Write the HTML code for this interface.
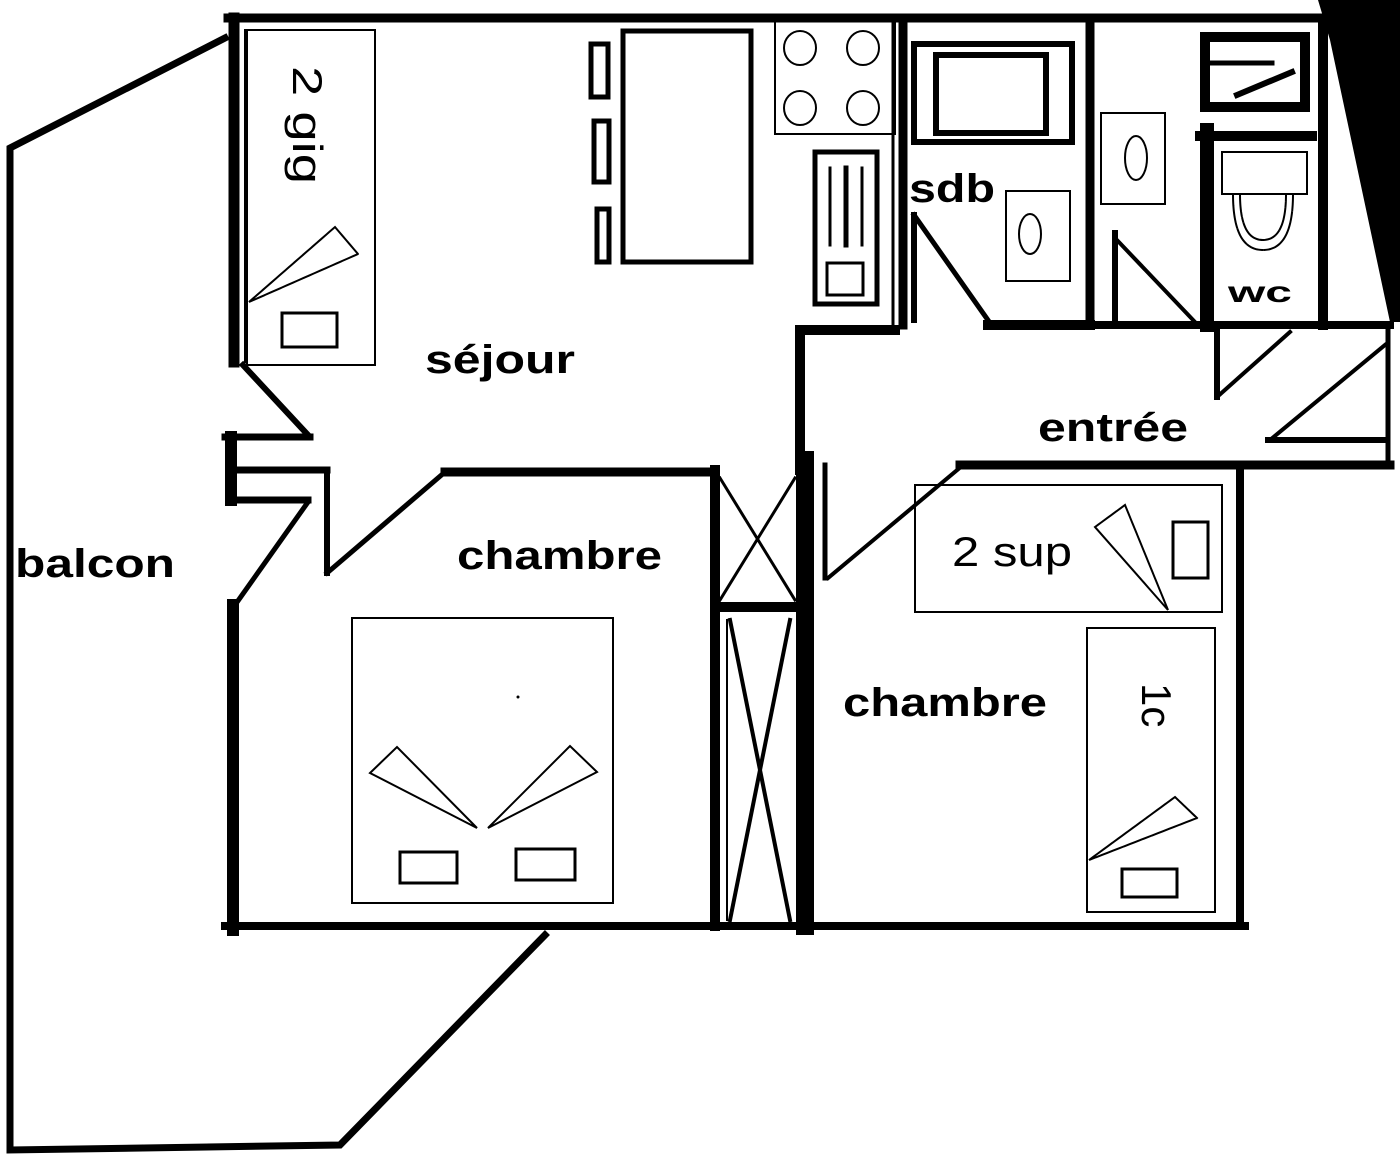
<!DOCTYPE html>
<html><head><meta charset="utf-8"><style>
html,body{margin:0;padding:0;background:#fff;}
svg{display:block;}
.lb{font-family:"Liberation Sans",sans-serif;font-weight:bold;font-size:40px;fill:#000;}
.nm{font-family:"Liberation Sans",sans-serif;font-size:42px;fill:#000;}
</style></head><body>
<svg width="1400" height="1169" viewBox="0 0 1400 1169" xmlns="http://www.w3.org/2000/svg">
<g fill="none" stroke="#000" stroke-linecap="square">
<polyline points="225,38 10,148 10,1150 340,1145 545,935" stroke-width="7"/>
<line x1="228" y1="18" x2="1325" y2="18" stroke-width="9"/>
<line x1="234" y1="18" x2="234" y2="362" stroke-width="11"/>
<line x1="245" y1="30" x2="245" y2="362" stroke-width="2"/>
<line x1="243" y1="365" x2="308" y2="435" stroke-width="6"/>
<line x1="225" y1="437" x2="310" y2="437" stroke-width="7"/>
<line x1="231" y1="437" x2="231" y2="500" stroke-width="12"/>
<line x1="238" y1="470" x2="327" y2="470" stroke-width="7"/>
<line x1="327" y1="470" x2="327" y2="573" stroke-width="6"/>
<line x1="327" y1="573" x2="445" y2="472" stroke-width="5"/>
<line x1="238" y1="500" x2="308" y2="500" stroke-width="7"/>
<line x1="308" y1="502" x2="235" y2="605" stroke-width="5"/>
<line x1="233" y1="605" x2="233" y2="930" stroke-width="12"/>
<line x1="445" y1="472" x2="712" y2="472" stroke-width="9"/>
<line x1="225" y1="926" x2="1245" y2="926" stroke-width="8"/>
<line x1="715" y1="470" x2="715" y2="926" stroke-width="10"/>
<line x1="805" y1="460" x2="805" y2="926" stroke-width="18"/>
<line x1="715" y1="607" x2="800" y2="607" stroke-width="10"/>
<line x1="720" y1="478" x2="795" y2="600" stroke-width="3"/>
<line x1="795" y1="478" x2="720" y2="600" stroke-width="3"/>
<line x1="730" y1="620" x2="790" y2="920" stroke-width="4"/>
<line x1="790" y1="620" x2="730" y2="920" stroke-width="4"/>
<line x1="727" y1="620" x2="727" y2="920" stroke-width="2"/>
<line x1="800" y1="330" x2="800" y2="470" stroke-width="10"/>
<line x1="800" y1="330" x2="895" y2="330" stroke-width="10"/>
<line x1="893" y1="18" x2="893" y2="330" stroke-width="3"/>
<line x1="903" y1="20" x2="903" y2="325" stroke-width="9"/>
<line x1="988" y1="325" x2="1090" y2="325" stroke-width="10"/>
<line x1="1090" y1="20" x2="1090" y2="325" stroke-width="9"/>
<line x1="1080" y1="325" x2="1390" y2="325" stroke-width="8"/>
<line x1="1388" y1="325" x2="1388" y2="465" stroke-width="5"/>
<line x1="960" y1="465" x2="1390" y2="465" stroke-width="9"/>
<line x1="1240" y1="465" x2="1240" y2="926" stroke-width="8"/>
<line x1="825" y1="465" x2="825" y2="578" stroke-width="5"/>
<line x1="828" y1="578" x2="962" y2="466" stroke-width="4"/>
<line x1="914" y1="215" x2="914" y2="320" stroke-width="6"/>
<line x1="914" y1="215" x2="990" y2="323" stroke-width="5"/>
<line x1="1115" y1="233" x2="1115" y2="322" stroke-width="6"/>
<line x1="1115" y1="238" x2="1195" y2="322" stroke-width="4"/>
<line x1="1207" y1="130" x2="1207" y2="325" stroke-width="14"/>
<line x1="1200" y1="136" x2="1312" y2="136" stroke-width="10"/>
<line x1="1323" y1="20" x2="1323" y2="325" stroke-width="10"/>
<line x1="1217" y1="325" x2="1217" y2="397" stroke-width="6"/>
<line x1="1217" y1="397" x2="1290" y2="332" stroke-width="4"/>
<line x1="1270" y1="440" x2="1385" y2="345" stroke-width="4"/>
<line x1="1268" y1="440" x2="1385" y2="440" stroke-width="6"/>
<rect x="1205" y="37" width="100" height="70" stroke-width="10"/>
<line x1="1212" y1="63" x2="1272" y2="63" stroke-width="5"/>
<line x1="1237" y1="95" x2="1292" y2="72" stroke-width="6"/>
<rect x="914" y="44" width="158" height="98" stroke-width="6"/>
<rect x="936" y="55" width="110" height="78" stroke-width="6"/>
<rect x="1006" y="191" width="64" height="90" stroke-width="2"/>
<ellipse cx="1030" cy="234" rx="11" ry="20" stroke-width="2"/>
<rect x="1101" y="113" width="64" height="91" stroke-width="2"/>
<ellipse cx="1136" cy="158" rx="11" ry="22" stroke-width="2"/>
<rect x="1222" y="152" width="85" height="42" stroke-width="2"/>
<path d="M1233,194 Q1233,250 1263,250 Q1293,250 1293,194" stroke-width="2" stroke-dasharray="4,2"/>
<path d="M1240,194 Q1240,240 1263,240 Q1286,240 1286,194" stroke-width="2" stroke-dasharray="4,2"/>
<rect x="775" y="20" width="120" height="114" stroke-width="2"/>
<ellipse cx="800" cy="48" rx="16" ry="17" stroke-width="2"/>
<ellipse cx="863" cy="48" rx="16" ry="17" stroke-width="2"/>
<ellipse cx="800" cy="108" rx="16" ry="17" stroke-width="2"/>
<ellipse cx="863" cy="108" rx="16" ry="17" stroke-width="2"/>
<rect x="815" y="152" width="62" height="152" stroke-width="5"/>
<line x1="830" y1="168" x2="830" y2="245" stroke-width="3"/>
<line x1="846" y1="168" x2="846" y2="245" stroke-width="5"/>
<line x1="862" y1="168" x2="862" y2="245" stroke-width="3"/>
<rect x="827" y="263" width="36" height="32" stroke-width="3"/>
<rect x="623" y="31" width="128" height="231" stroke-width="5"/>
<rect x="591" y="44" width="17" height="53" stroke-width="5"/>
<rect x="594" y="121" width="15" height="61" stroke-width="5"/>
<rect x="597" y="209" width="12" height="53" stroke-width="5"/>
<rect x="247" y="30" width="128" height="335" stroke-width="2"/>
<rect x="282" y="313" width="55" height="34" stroke-width="3"/>
<polygon points="249,302 335,227 358,254" stroke-width="2" stroke-dasharray="5,1"/>
<rect x="352" y="618" width="261" height="285" stroke-width="2"/>
<rect x="400" y="852" width="57" height="31" stroke-width="3"/>
<rect x="516" y="849" width="59" height="31" stroke-width="3"/>
<polygon points="477,828 370,773 397,747" stroke-width="2"/>
<polygon points="488,828 597,772 570,746" stroke-width="2"/>
<rect x="915" y="485" width="307" height="127" stroke-width="2"/>
<rect x="1173" y="522" width="35" height="56" stroke-width="3"/>
<polygon points="1168,610 1095,527 1125,505" stroke-width="2" stroke-dasharray="5,1"/>
<rect x="1087" y="628" width="128" height="284" stroke-width="2"/>
<rect x="1122" y="869" width="55" height="28" stroke-width="3"/>
<polygon points="1089,860 1175,797 1197,818" stroke-width="2" stroke-dasharray="5,1"/>
</g>
<polygon points="1318,0 1400,0 1400,322 1390,322 1330,40" fill="#000"/>
<circle cx="518" cy="697" r="1.5" fill="#000"/>
<text class="lb" x="425" y="373" textLength="150" lengthAdjust="spacingAndGlyphs">séjour</text>
<text class="lb" x="457" y="569" textLength="205" lengthAdjust="spacingAndGlyphs">chambre</text>
<text class="lb" x="15" y="577" textLength="160" lengthAdjust="spacingAndGlyphs">balcon</text>
<text class="lb" x="843" y="716" textLength="204" lengthAdjust="spacingAndGlyphs">chambre</text>
<text class="lb" x="1038" y="441" textLength="150" lengthAdjust="spacingAndGlyphs">entrée</text>
<text class="lb" x="909" y="202" textLength="86" lengthAdjust="spacingAndGlyphs">sdb</text>
<text class="lb" x="1228" y="302" style="font-size:30px" textLength="64" lengthAdjust="spacingAndGlyphs">wc</text>
<text class="nm" x="952" y="566" textLength="120" lengthAdjust="spacingAndGlyphs">2 sup</text>
<text class="nm" transform="translate(293,66) rotate(90)" x="0" y="0" textLength="118" lengthAdjust="spacingAndGlyphs">2 gig</text>
<text class="nm" transform="translate(1142,683) rotate(90)" x="0" y="0">1c</text>
</svg>
</body></html>
